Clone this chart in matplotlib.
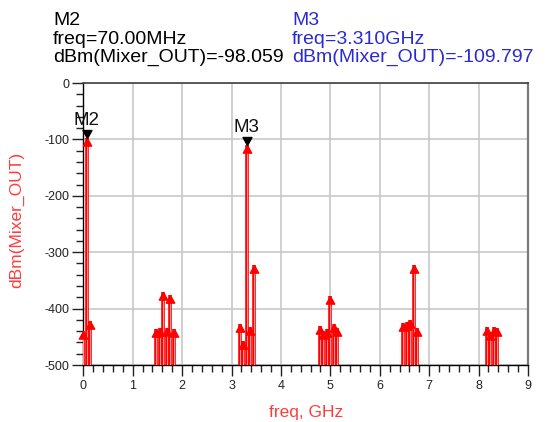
import matplotlib
matplotlib.use("Agg")
import matplotlib.pyplot as plt
from matplotlib.ticker import MultipleLocator
from matplotlib.path import Path

plt.rcParams['font.family'] = ['Liberation Sans', 'DejaVu Sans']
plt.rcParams['axes.unicode_minus'] = False

# Mixer output spectrum (harmonic balance), tone frequencies in GHz, levels in dBm
freq_ghz = [0.00, 0.07, 0.14,
            1.48, 1.55, 1.62, 1.69, 1.76, 1.83,
            3.17, 3.24, 3.31, 3.38, 3.45,
            4.79, 4.86, 4.93, 5.00, 5.07, 5.14,
            6.48, 6.55, 6.62, 6.69, 6.76,
            8.17, 8.24, 8.31, 8.38]
level_dbm = [-440, -98.059, -422,
             -437, -434, -370, -434, -376, -437,
             -427, -457, -109.797, -433, -322,
             -431, -440, -436, -378, -428, -435,
             -426, -423, -421, -323, -434,
             -433, -442, -433, -434]

# Markers
marker_names = ["M2", "M3"]
marker_freq_ghz = [0.07, 3.31]
marker_level_dbm = [-98.059, -109.797]
marker_freq_text = ["70.00MHz", "3.310GHz"]
marker_colors = ["black", "#2a2ad2"]

x_ticks = list(range(0, 10))
y_ticks = list(range(-500, 1, 100))
floor_dbm = -500

fig = plt.figure(figsize=(5.5, 4.22), dpi=100)
W, H = 550, 422
ax = fig.add_axes([83.3 / W, 1 - 365 / H, (528 - 83.3) / W, (365 - 83) / H])
ax.set_xlim(0, 9)
ax.set_ylim(-500, 0)

# grid
ax.set_xticks(x_ticks)
ax.set_yticks(y_ticks)
ax.xaxis.set_minor_locator(MultipleLocator(0.2))
ax.yaxis.set_minor_locator(MultipleLocator(20))
ax.grid(True, which='major', color='#c8c8c8', lw=1.2, zorder=0)
ax.set_axisbelow(True)

ax.tick_params(which='major', length=8, width=1, direction='out', colors='#222222',
               labelsize=9, pad=2)
ax.tick_params(axis='x', which='major', pad=3)
ax.tick_params(which='minor', length=5, width=1, direction='out', color='#222222')

for side in ('left', 'bottom'):
    ax.spines[side].set_color('black')
    ax.spines[side].set_linewidth(1.0)
ax.spines['top'].set_color('#404040')
ax.spines['top'].set_linewidth(1.2)
ax.spines['right'].set_color('#7a7a7a')
ax.spines['right'].set_linewidth(1.6)

# spectral stems with arrow heads
ax.vlines(freq_ghz, floor_dbm, level_dbm, colors='red', lw=2.6, zorder=3)
ax.vlines(freq_ghz, floor_dbm, level_dbm, colors='#ffb0b0', lw=0.6, zorder=3)
arrow_up = Path([(0, 0), (-0.55, -1), (0.55, -1), (0, 0)],
                [Path.MOVETO, Path.LINETO, Path.LINETO, Path.CLOSEPOLY])
ax.plot(freq_ghz, level_dbm, linestyle='none', marker=arrow_up, ms=11,
        color='red', mec='red', zorder=4, clip_on=False)

# marker symbols and names
arrow_down = Path([(0, 0), (-0.56, 1), (0.56, 1), (0, 0)],
                  [Path.MOVETO, Path.LINETO, Path.LINETO, Path.CLOSEPOLY])
ax.plot(marker_freq_ghz, marker_level_dbm, linestyle='none', marker=arrow_down,
        ms=11.5, color='black', zorder=5, clip_on=False)
for name, f, v in zip(marker_names, marker_freq_ghz, marker_level_dbm):
    ax.annotate(name, xy=(f, v), xytext=(0, 9.5), textcoords='offset points',
                ha='center', va='baseline', fontsize=13.5, color='#111111', zorder=6)

# marker readouts
block_x = [53, 292]
for name, fx, v, c, bx in zip(marker_names, marker_freq_text, marker_level_dbm,
                              marker_colors, block_x):
    lines = [name, f"freq={fx}", f"dBm(Mixer_OUT)={v:.3f}"]
    for line, base in zip(lines, [25, 44, 62]):
        fig.text(bx / W, 1 - base / H, line, fontsize=14, color=c,
                 ha='left', va='baseline')

ax.set_xlabel("freq, GHz", color='#ff3c3c', fontsize=12.5, va='center')
ax.xaxis.set_label_coords(0.5, (365 - 412) / 282)
ax.set_ylabel("dBm(Mixer_OUT)", color='#ff3c3c', fontsize=12.5, va='center')
ax.yaxis.set_label_coords((17 - 83.3) / 444.7, (365 - 220) / 282)

fig.savefig("out.png", dpi=100)
